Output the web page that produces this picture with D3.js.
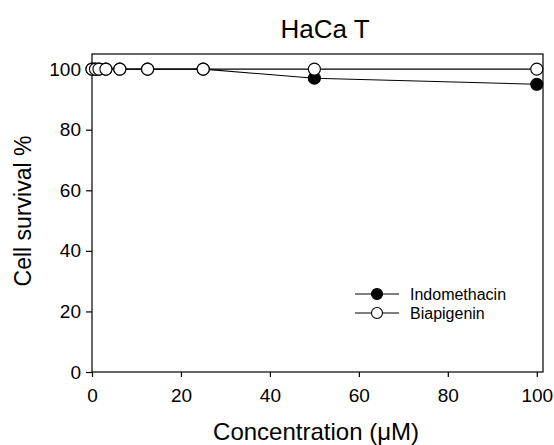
<!DOCTYPE html>
<html>
<head>
<meta charset="utf-8">
<script src="https://cdn.jsdelivr.net/npm/d3@7"></script>
<style>
  body { margin: 0; background: #fff; }
  text { font-family: "Liberation Sans", Arial, sans-serif; fill: #000; }
</style>
</head>
<body>
<script>
// concentrations (uM) and survival values
const concentrations = [0, 0.78, 1.56, 3.125, 6.25, 12.5, 25, 50, 100]
const indomethacin = [100, 100, 100, 100, 100, 100, 100, 97, 95]
const biapigenin = [100, 100, 100, 100, 100, 100, 100, 100, 100]
const xTicks = [0, 20, 40, 60, 80, 100]
const yTicks = [0, 20, 40, 60, 80, 100]

const width = 554, height = 445
const margin = {top: 54, right: 11, bottom: 73, left: 92}

const svg = d3.select('body').append('svg')
  .attr('width', width)
  .attr('height', height)

const x = d3.scaleLinear().domain([0, 101.4]).range([margin.left, width - margin.right])
const y = d3.scaleLinear().domain([0, 105]).range([height - margin.bottom, margin.top])

// frame
svg.append('rect')
  .attr('x', x(0)).attr('y', y(105))
  .attr('width', x(101.4) - x(0))
  .attr('height', y(0) - y(105))
  .attr('fill', 'none')
  .attr('stroke', '#000')
  .attr('stroke-width', 1.2)

// axes
const xAxis = svg.append('g')
  .attr('transform', 'translate(0,' + y(0) + ')')
  .call(d3.axisBottom(x).tickValues(xTicks).tickSize(5).tickSizeOuter(0).tickPadding(12))
const yAxis = svg.append('g')
  .attr('transform', 'translate(' + x(0) + ',0)')
  .call(d3.axisLeft(y).tickValues(yTicks).tickSize(6).tickSizeOuter(0).tickPadding(5))

;[xAxis, yAxis].forEach(function (a) {
  a.select('.domain').remove()
  a.selectAll('.tick line').attr('stroke', '#000').attr('stroke-width', 1.2)
  a.selectAll('.tick text')
    .style('font-family', '"Liberation Sans", Arial, sans-serif')
    .style('font-size', '19px')
    .attr('fill', '#000')
})

const line = d3.line()
  .x(function (d) { return x(d[0]) })
  .y(function (d) { return y(d[1]) })

function drawSeries(values, fill) {
  const pts = concentrations.map(function (c, i) { return [c, values[i]] })
  svg.append('path')
    .datum(pts)
    .attr('d', line)
    .attr('fill', 'none')
    .attr('stroke', '#000')
    .attr('stroke-width', 1.1)
  svg.append('g').selectAll('circle')
    .data(pts)
    .enter().append('circle')
    .attr('cx', function (d) { return x(d[0]) })
    .attr('cy', function (d) { return y(d[1]) })
    .attr('r', 6)
    .attr('fill', fill)
    .attr('stroke', '#000')
    .attr('stroke-width', 1.1)
}

// filled drawn first, open circles sit on top
drawSeries(indomethacin, '#000')
drawSeries(biapigenin, '#fff')

// legend
const legend = [
  {name: 'Indomethacin', fill: '#000', y: 294},
  {name: 'Biapigenin', fill: '#fff', y: 313}
]
const lg = svg.append('g').selectAll('g')
  .data(legend)
  .enter().append('g')
  .attr('transform', function (d) { return 'translate(0,' + d.y + ')' })
lg.append('line')
  .attr('x1', 355).attr('x2', 399)
  .attr('stroke', '#000').attr('stroke-width', 1.1)
lg.append('circle')
  .attr('cx', 377).attr('r', 5.5)
  .attr('fill', function (d) { return d.fill })
  .attr('stroke', '#000').attr('stroke-width', 1.1)
lg.append('text')
  .attr('x', 410).attr('dy', '0.35em')
  .style('font-size', '16px')
  .text(function (d) { return d.name })

// titles
svg.append('text')
  .attr('x', 325).attr('y', 38)
  .attr('text-anchor', 'middle')
  .style('font-size', '26px')
  .text('HaCa T')

svg.append('text')
  .attr('transform', 'translate(31,211) rotate(-90)')
  .attr('text-anchor', 'middle')
  .style('font-size', '23px')
  .text('Cell survival %')

svg.append('text')
  .attr('x', 316).attr('y', 440)
  .attr('text-anchor', 'middle')
  .style('font-size', '24px')
  .text('Concentration (μM)')
</script>
</body>
</html>
